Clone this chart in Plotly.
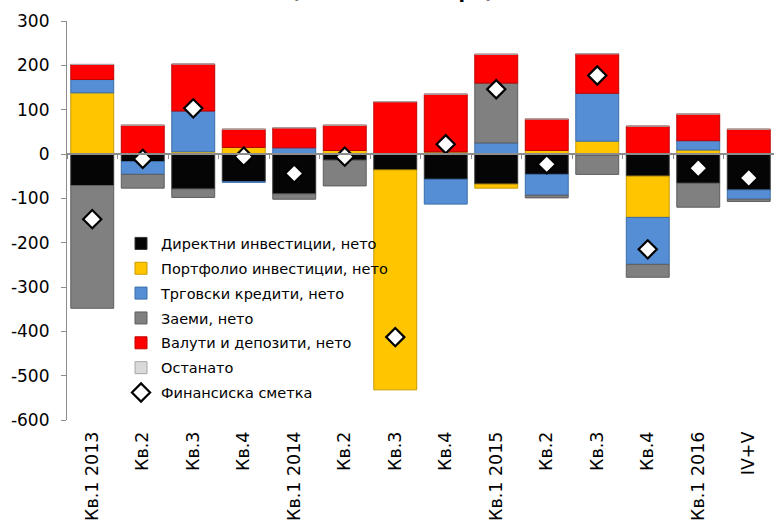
import plotly.graph_objects as go

categories = ["Кв.1 2013", "Кв.2", "Кв.3", "Кв.4", "Кв.1 2014", "Кв.2", "Кв.3", "Кв.4",
              "Кв.1 2015", "Кв.2", "Кв.3", "Кв.4", "Кв.1 2016", "IV+V"]
# unique internal keys (labels repeat)
keys = [f"c{i}" for i in range(len(categories))]

direktni = [-71, -17, -79, -62, -90, -14, -36, -57, -68, -46, -3, -50, -66, -81]
portfolio = [138, 0, 5, 15, 0, 8, -496, 5, -9, 8, 29, -93, 9, 0]
trgovski = [30, -29, 92, -2, 14, 0, 0, -56, 25, -47, 108, -106, 21, -21]
zaemi = [-277, -31, -19, 0, -12, -58, 0, 0, 135, -6, -43, -29, -54, -5]
valuti = [34, 65, 106, 41, 45, 57, 118, 130, 65, 71, 89, 63, 60, 56]
ostanato = [0, 0, 0, 0, 0, 0, 0, 0, 0, 0, 0, 0, 0, 0]
finansiska = [-147, -11, 103, -6, -44, -6, -413, 22, 146, -23, 177, -215, -32, -54]

y_ticks = [300, 200, 100, 0, -100, -200, -300, -400, -500, -600]
y_ticktext = ["300", "200", "100", "0", "-100", "-200", "-300", "-400", "-500", "-600"]

series = [
    ("Директни инвестиции, нето", direktni, "#050505", "#333333"),
    ("Портфолио инвестиции, нето", portfolio, "#FFC600", "#C99A00"),
    ("Трговски кредити, нето", trgovski, "#558ED5", "#3A6CA8"),
    ("Заеми, нето", zaemi, "#808080", "#5E5E5E"),
    ("Валути и депозити, нето", valuti, "#FF0000", "#C00000"),
    ("Останато", ostanato, "#D9D9D9", "#A6A6A6"),
]

fig = go.Figure()
for name, vals, col, edge in series:
    fig.add_trace(go.Bar(
        x=keys, y=vals, name=name, legendgroup=name,
        marker=dict(color=col, line=dict(color=edge, width=1)),
    ))

fig.add_trace(go.Scatter(
    x=keys, y=finansiska, name="Финансиска сметка", legendgroup="fin",
    mode="markers", xaxis="x2",
    marker=dict(symbol="diamond", size=14, color="white",
                line=dict(color="black", width=2.2)),
))

FONT = "DejaVu Sans"
fig.update_layout(
    width=774, height=520,
    barmode="relative", bargap=0.15,
    paper_bgcolor="white", plot_bgcolor="white",
    margin=dict(l=67, r=0, t=21, b=100),
    font=dict(family=FONT, color="black"),
    showlegend=True,
    legend=dict(x=0.0764, y=0.4825, xanchor="left", yanchor="top",
                bgcolor="rgba(0,0,0,0)", font=dict(size=14.5, family=FONT),
                itemwidth=30, tracegroupgap=3, traceorder="grouped"),
    xaxis=dict(type="category", categoryorder="array", categoryarray=keys,
               tickmode="array", tickvals=keys, ticktext=categories,
               range=[-0.5, 13.5], tickangle=-90, tickfont=dict(size=17.5),
               showline=False, ticks="", showgrid=False, zeroline=False,
               ticklabelstandoff=7),
    xaxis2=dict(type="category", categoryorder="array", categoryarray=keys,
                overlaying="x", anchor="free", position=(420 - 154) / 399,
                range=[-0.5, 13.5], showticklabels=False, showline=True,
                linecolor="#8c8c8c", linewidth=1.5, ticks="outside",
                tickson="boundaries", ticklen=4, tickcolor="#8c8c8c",
                showgrid=False, zeroline=False),
    yaxis=dict(range=[-600, 300], tickmode="array", tickvals=y_ticks,
               ticktext=y_ticktext, showgrid=False, zeroline=False,
               showline=True, linecolor="#8c8c8c", linewidth=1.2,
               ticks="outside", ticklen=5, tickcolor="#8c8c8c",
               tickfont=dict(size=17), ticklabelstandoff=8),
    annotations=[dict(text="<b>(во милиони евра)</b>", xref="paper", yref="paper",
                      x=0.46, y=1.043, xanchor="center", yanchor="bottom",
                      showarrow=False, font=dict(size=19, family=FONT))],
)

fig.write_html("out.html")
